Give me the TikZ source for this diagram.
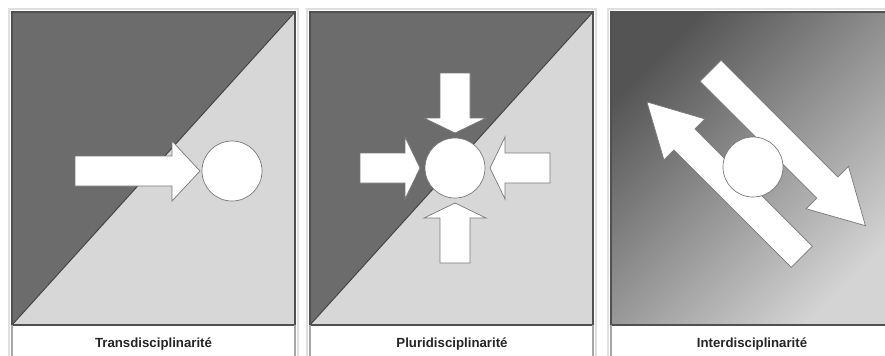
\documentclass[tikz,border=0pt]{standalone}
\usepackage{fontspec}
\setmainfont{Liberation Sans}
\definecolor{darkpart}{RGB}{108,108,108}
\definecolor{lightpart}{RGB}{215,215,215}
\definecolor{gradtop}{RGB}{84,84,84}
\definecolor{gradbottom}{RGB}{212,212,212}
\definecolor{panelborder}{RGB}{80,80,80}
\definecolor{shapeline}{RGB}{120,120,120}
\tikzset{
  hub/.style={circle, draw=shapeline, fill=white, line width=0.6pt, minimum size=1.8cm, inner sep=0pt},
  block/.style={draw=shapeline, fill=white, line width=0.6pt},
  caption/.style={font=\bfseries\fontsize{11.3}{13}\selectfont, text=black!85, anchor=base},
  frame/.style={draw=panelborder, line width=1.1pt},
  side/.style={draw=gray!70, line width=1pt},
  halo/.style={draw=gray!25, line width=2pt},
  split/.style={draw=black!75, line width=0.8pt}
}
\begin{document}
\begin{tikzpicture}[x=0.03cm,y=-0.03cm]
    \clip (0,0) rectangle (885,355);
    \fill[white] (0,0) rectangle (885,355);

    % Transdisciplinarite
    \draw[halo] (9,9) rectangle (298,362);
    \fill[darkpart] (12,12) -- (295,12) -- (12,325) -- cycle;
    \fill[lightpart] (295,12) -- (295,325) -- (12,325) -- cycle;
    \draw[split] (12,325) -- (295,12);
    \draw[frame] (12,12) rectangle (295,325);
    \draw[side] (12,325) -- (12,360);
    \draw[side] (295,325) -- (295,360);
    \coordinate (p1) at (232,171);
    \begin{scope}[shift={(p1)}]
        \draw[block] (-157,-15) -- (-60,-15) -- (-60,-30) -- (-32,0) -- (-60,30) -- (-60,15) -- (-157,15) -- cycle;
    \end{scope}
    \node[hub] (c1) at (p1) {};
    \node[caption] (t1) at (153.5,347) {Transdisciplinarité};

    % Pluridisciplinarite
    \draw[halo] (307,9) rectangle (596,362);
    \fill[darkpart] (310,12) -- (593,12) -- (310,325) -- cycle;
    \fill[lightpart] (593,12) -- (593,325) -- (310,325) -- cycle;
    \draw[split] (310,325) -- (593,12);
    \draw[frame] (310,12) rectangle (593,325);
    \draw[side] (310,325) -- (310,360);
    \draw[side] (593,325) -- (593,360);
    \coordinate (p2) at (455,168);
    \begin{scope}[shift={(p2)}]
        \draw[block] (-95,-15) -- (-50,-15) -- (-50,-31) -- (-35,0) -- (-50,31) -- (-50,15) -- (-95,15) -- cycle;
    \end{scope}
    \begin{scope}[shift={(p2)}, rotate=-90]
        \draw[block] (-95,-15) -- (-50,-15) -- (-50,-31) -- (-35,0) -- (-50,31) -- (-50,15) -- (-95,15) -- cycle;
    \end{scope}
    \begin{scope}[shift={(p2)}, rotate=180]
        \draw[block] (-95,-15) -- (-50,-15) -- (-50,-31) -- (-35,0) -- (-50,31) -- (-50,15) -- (-95,15) -- cycle;
    \end{scope}
    \begin{scope}[shift={(p2)}, rotate=90]
        \draw[block] (-95,-15) -- (-50,-15) -- (-50,-31) -- (-35,0) -- (-50,31) -- (-50,15) -- (-95,15) -- cycle;
    \end{scope}
    \node[hub] (c2) at (p2) {};
    \node[caption] (t2) at (452,347) {Pluridisciplinarité};

    % Interdisciplinarite
    \draw[halo] (608,9) rectangle (897,362);
    \shade[top color=gradtop, bottom color=gradbottom, shading angle=45] (611,12) rectangle (894,325);
    \draw[frame] (611,12) rectangle (894,325);
    \draw[side] (611,325) -- (611,360);
    \coordinate (p3) at (753,167);
    \begin{scope}[shift={(p3)}, rotate=-45]
        \draw[block] (-98,-53) -- (67,-53) -- (67,-68) -- (121,-38) -- (67,-8) -- (67,-23) -- (-98,-23) -- cycle;
        \draw[block] (98,14) -- (-68,14) -- (-68,0) -- (-121,29) -- (-68,58) -- (-68,44) -- (98,44) -- cycle;
    \end{scope}
    \node[hub] (c3) at (p3) {};
    \node[caption] (t3) at (752,347) {Interdisciplinarité};
\end{tikzpicture}
\end{document}
